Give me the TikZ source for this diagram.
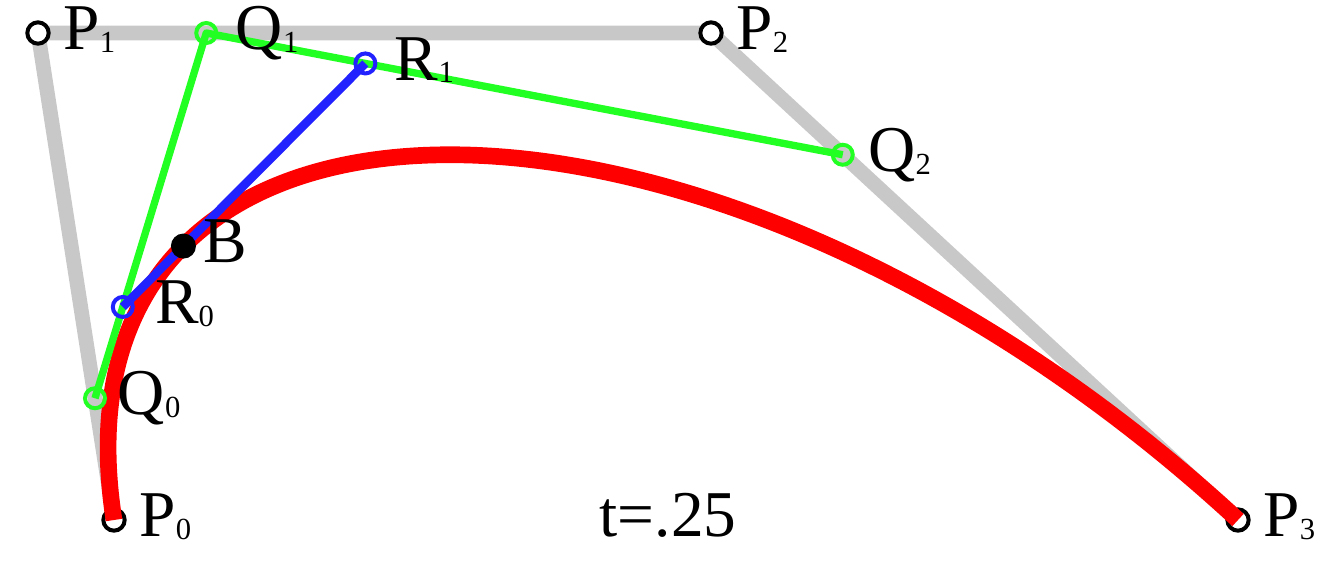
\documentclass[tikz,border=0pt]{standalone}
\usepackage{fontspec}
\setmainfont{Liberation Serif}
\usetikzlibrary{calc}
\definecolor{hullgray}{RGB}{200,200,200}
\definecolor{lerpgreen}{RGB}{34,255,34}
\definecolor{lerpblue}{RGB}{34,34,255}
\newcommand{\ptname}[2]{#1{\fontsize{23pt}{23pt}\selectfont\raisebox{-2pt}{#2}}}
\tikzset{
  ptlabel/.style={anchor=base west, inner sep=0pt, font=\fontsize{49pt}{50pt}\selectfont, xshift=19pt, yshift=-12.5pt},
  ctrl/.style={draw=black, fill=white, line width=3pt},
}
\begin{document}
\begin{tikzpicture}[x=0.75pt, y=-0.75pt]
            \useasboundingbox (0,0) rectangle (1340,582);
            \coordinate (P0) at (114,520);
            \coordinate (P1) at (38,33);
            \coordinate (P2) at (711,33);
            \coordinate (P3) at (1238,520);
            \coordinate (Q0) at ($(P0)!0.25!(P1)$);
            \coordinate (Q1) at ($(P1)!0.25!(P2)$);
            \coordinate (Q2) at ($(P2)!0.25!(P3)$);
            \coordinate (R0) at ($(Q0)!0.25!(Q1)$);
            \coordinate (R1) at ($(Q1)!0.25!(Q2)$);
            \coordinate (B) at ($(R0)!0.25!(R1)$);
            % control polygon
            \draw[hullgray, line width=11pt] (P0) -- (P1) -- (P2) -- (P3);
            \foreach \p in {P0,P1,P2,P3}
              \draw[ctrl] (\p) circle (8pt);
            \draw[red, line width=12.5pt] (P0) .. controls (P1) and (P2) .. (P3);
            \draw[lerpgreen, line width=5.5pt, line join=round] (Q0) -- (Q1) -- (Q2);
            \foreach \q in {Q0,Q1,Q2}
              \draw[lerpgreen, line width=3pt] (\q) circle (7.5pt);
            \draw[lerpblue, line width=6.5pt] (R0) -- (R1);
            \foreach \r in {R0,R1}
              \draw[lerpblue, line width=3pt] (\r) circle (7.5pt);
            \fill (B) circle (9.4pt);
            % labels
            \node[ptlabel] (lP0) at (P0) {\ptname{P}{0}};
            \node[ptlabel] (lP1) at (P1) {\ptname{P}{1}};
            \node[ptlabel] (lP2) at (P2) {\ptname{P}{2}};
            \node[ptlabel] (lP3) at (P3) {\ptname{P}{3}};
            \node[ptlabel, xshift=-2pt] (lQ0) at (Q0) {\ptname{Q}{0}};
            \node[ptlabel, xshift=3pt] (lQ1) at (Q1) {\ptname{Q}{1}};
            \node[ptlabel] (lQ2) at (Q2) {\ptname{Q}{2}};
            \node[ptlabel, xshift=5pt] (lR0) at (R0) {\ptname{R}{0}};
            \node[ptlabel, xshift=3pt] (lR1) at (R1) {\ptname{R}{1}};
            \node[ptlabel, xshift=-4pt] (lB) at (B) {B};
            \node[ptlabel, anchor=base, xshift=-19pt] (tval) at (668,520) {t=.25};
        \end{tikzpicture}
\end{document}
